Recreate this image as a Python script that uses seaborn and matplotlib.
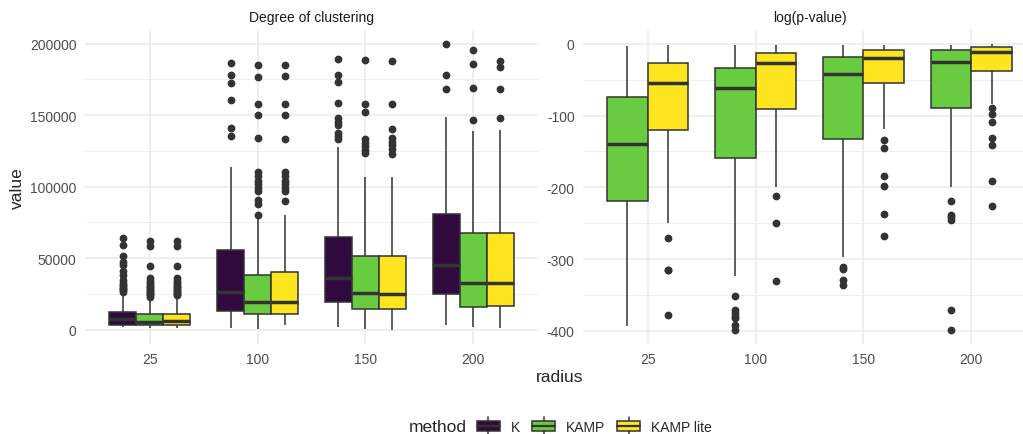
###Box plots of clustering degree and log(p-value) by radius and method

import numpy as np
import pandas as pd
import matplotlib
matplotlib.use('Agg')
import matplotlib.pyplot as plt
import seaborn as sns
from matplotlib.legend_handler import HandlerBase
from matplotlib.patches import Rectangle, Patch
from matplotlib.lines import Line2D

##Data
radius = ['25', '100', '150', '200']
methods = ['K', 'KAMP', 'KAMP lite']
colors = ['#300A3F', '#69CC40', '#FDE51F']

#five-number summaries per radius: whisker low, q1, median, q3, whisker high
clust_K = [[1600, 3500, 7500, 12500, 25000],
           [1200, 13000, 26100, 55900, 113800],
           [2100, 19500, 36300, 64800, 127800],
           [3300, 24900, 45400, 80800, 149000]]
clust_K_out = [[26500, 27500, 28500, 29500, 30500, 31500, 33000, 35000, 38000, 41000, 45500, 47500, 51500, 59000, 64000],
               [135500, 141100, 160900, 172500, 178300, 186700],
               [133200, 135500, 137800, 143200, 145300, 148300, 158500, 173200, 178300, 189500],
               [168500, 178300, 199500]]
clust_KAMP = [[900, 3000, 5100, 10700, 21500],
              [300, 10900, 19100, 38200, 77300],
              [500, 14700, 25600, 51400, 106400],
              [1600, 15600, 32800, 67300, 139000]]
clust_KAMP_out = [[23000, 24000, 25000, 26000, 27000, 28000, 29000, 30000, 31000, 32500, 34000, 36000, 44500, 58500, 62000],
                  [80100, 88200, 90600, 97100, 99400, 101700, 104100, 107500, 110300, 133900, 149900, 158100, 176900, 184800],
                  [123200, 125700, 128500, 130800, 133200, 152500, 157600, 188300],
                  [146400, 169000, 185800, 195300]]
clust_lite = [[900, 3000, 6000, 11200, 22000],
              [3300, 11200, 19500, 40000, 80100],
              [0, 14400, 25100, 51400, 106900],
              [900, 16500, 32800, 67300, 139400]]
clust_lite_out = [[24000, 25000, 26000, 27000, 28000, 29000, 30000, 31000, 32500, 34000, 36500, 44500, 58500, 62000],
                  [90100, 97100, 99400, 101700, 104100, 107500, 110300, 133600, 150200, 158100, 177200, 184800],
                  [122700, 126200, 129200, 131500, 134300, 140100, 158100, 187900],
                  [148100, 168500, 183900, 187600]]

pval_KAMP = [[-393, -218.6, -139.5, -73.9, -2.3],
             [-323, -159, -61.4, -33, -1],
             [-296.7, -132.6, -42.3, -18.6, -1],
             [-200, -89.3, -25.6, -8.4, -1]]
pval_KAMP_out = [[],
                 [-351, -370.7, -375, -379, -382, -392, -398.6],
                 [-310.7, -314, -328.8, -336.3],
                 [-218.6, -238, -242, -245, -371, -398.6]]
pval_lite = [[-250.2, -120, -54, -27, -1.4],
             [-200, -90.7, -26.5, -13, -1],
             [-118.6, -54.9, -19, -8.4, -1],
             [-84, -37.5, -10.7, -4.7, -0.5]]
pval_lite_out = [[-271, -315, -316, -377.7],
                 [-211.6, -250, -331],
                 [-134.4, -144.6, -183.7, -197.7, -237.7, -267.4],
                 [-89.3, -97.7, -108.4, -131.6, -140.5, -190.7, -225.6]]

clust_ticks = [0, 50000, 100000, 150000, 200000]
pval_ticks = [-400, -300, -200, -100, 0]

##Build long tables the seaborn way
#each summary is spread into blocks so the quartiles come out exactly as read
def expand(summary, outliers, k=50):
    lo, q1, med, q3, hi = summary
    return [lo] + [q1] * k + [med] * k + [q3] * k + [hi] + list(outliers)

def long_table(series):
    rows = []
    for method, (summ, outs) in series.items():
        for r, s, o in zip(radius, summ, outs):
            for v in expand(s, o):
                rows.append((r, method, v))
    return pd.DataFrame(rows, columns=['radius', 'method', 'value'])

clust_df = long_table({'K': (clust_K, clust_K_out),
                       'KAMP': (clust_KAMP, clust_KAMP_out),
                       'KAMP lite': (clust_lite, clust_lite_out)})
pval_df = long_table({'KAMP': (pval_KAMP, pval_KAMP_out),
                      'KAMP lite': (pval_lite, pval_lite_out)})

##Plot
sns.set_theme(style='white')
plt.rcParams['font.family'] = ['Liberation Sans', 'DejaVu Sans']

W, H = 1023, 435
fig = plt.figure(figsize=(W / 100, H / 100), dpi=100)
pb, pt = 345, 31
ax1 = fig.add_axes([85 / W, 1 - pb / H, 453 / W, (pb - pt) / H])
ax2 = fig.add_axes([583 / W, 1 - pb / H, 453 / W, (pb - pt) / H])

box_kws = dict(x='radius', y='value', hue='method', order=radius, width=0.75, gap=0,
               linewidth=1.1, linecolor='#333333', saturation=1, legend=False,
               fliersize=4.6, showcaps=False,
               flierprops=dict(marker='o', markerfacecolor='#333333', markeredgecolor='#333333'),
               medianprops=dict(linewidth=2.5, color='#333333'))

sns.boxplot(data=clust_df, hue_order=methods, palette=colors, ax=ax1, **box_kws)
sns.boxplot(data=pval_df, hue_order=methods[1:], palette=colors[1:], ax=ax2, **box_kws)

def expanded(lo, hi):
    pad = (hi - lo) * 0.05
    return lo - pad, hi + pad

ax1.set_ylim(*expanded(0, 199500))
ax2.set_ylim(*expanded(-398.6, -0.5))

for ax, ticks in [(ax1, clust_ticks), (ax2, pval_ticks)]:
    ax.set_xlim(-0.6, len(radius) - 0.4)
    ax.set_yticks(ticks, labels=[str(t) for t in ticks])
    step = ticks[1] - ticks[0]
    ax.set_yticks([t + step / 2 for t in ticks[:-1]], minor=True)
    ax.set_axisbelow(True)
    ax.grid(True, which='major', axis='both', color='#EBEBEB', linewidth=1.1)
    ax.grid(True, which='minor', axis='y', color='#EBEBEB', linewidth=0.6)
    ax.tick_params(axis='both', which='both', length=0, labelsize=10, labelcolor='#4D4D4D')
    ax.tick_params(axis='y', pad=6)
    ax.tick_params(axis='x', pad=6)
    for s in ax.spines.values():
        s.set_visible(False)
    ax.set_xlabel('')
    ax.set_ylabel('')

#facet strips and axis titles
fig.text(311.5 / W, 1 - 18 / H, 'Degree of clustering', ha='center', va='center', fontsize=10, color='#1A1A1A')
fig.text(809.5 / W, 1 - 18 / H, 'log(p-value)', ha='center', va='center', fontsize=10, color='#1A1A1A')
fig.text(17 / W, 1 - 188 / H, 'value', rotation=90, ha='center', va='center', fontsize=12.5)
fig.text(560 / W, 1 - 378 / H, 'radius', ha='center', va='center', fontsize=12.5)

#legend with boxplot keys
class BoxKey(HandlerBase):
    def create_artists(self, legend, orig_handle, xdescent, ydescent, width, height, fontsize, trans):
        x0, y0 = -xdescent, -ydescent
        cx = x0 + width / 2
        whisk = Line2D([cx, cx], [y0, y0 + height], color='#333333', lw=1.1, transform=trans)
        box = Rectangle((x0, y0 + 0.23 * height), width, 0.54 * height,
                        facecolor=orig_handle.get_facecolor(), edgecolor='#333333', lw=1.1, transform=trans)
        med = Line2D([x0, x0 + width], [y0 + height / 2] * 2, color='#333333', lw=1.6, transform=trans)
        return [whisk, box, med]

handles = [Patch(facecolor=c, label=m) for m, c in zip(methods, colors)]
fig.legend(handles=handles, handler_map={Patch: BoxKey()}, loc='center left',
           bbox_to_anchor=(477 / W, 1 - 427 / H), ncol=3, frameon=False, fontsize=10,
           handlelength=1.65, handleheight=1.6, handletextpad=0.8, columnspacing=0.85,
           borderpad=0, borderaxespad=0)
fig.text(467 / W, 1 - 428 / H, 'method', ha='right', va='center', fontsize=12.5)

fig.savefig('out.png', dpi=100)
